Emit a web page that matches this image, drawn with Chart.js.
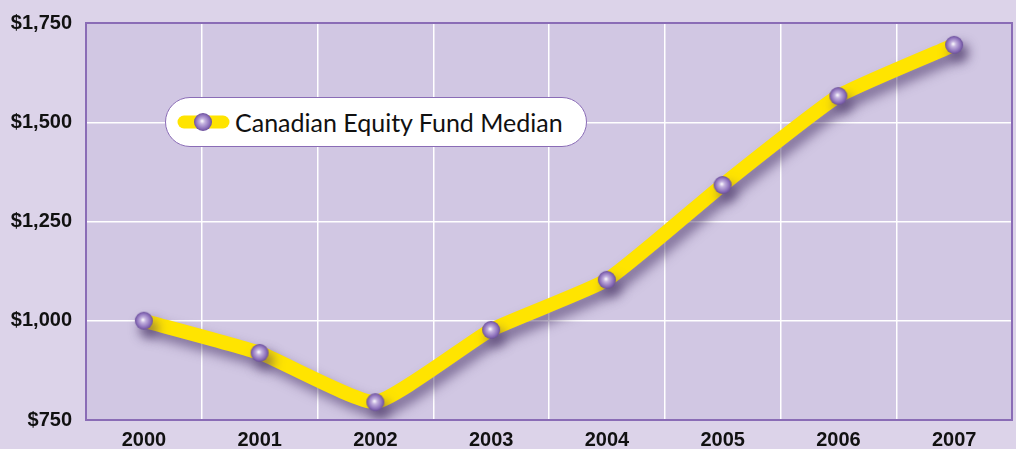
<!DOCTYPE html>
<html>
<head>
<meta charset="utf-8">
<script src="https://cdn.jsdelivr.net/npm/chart.js@4"></script>
<style>
  html, body { margin: 0; padding: 0; background: #dcd3e9; }
  #wrap { position: relative; width: 1016px; height: 449px; }
  #legend {
    position: absolute; left: 165px; top: 97px; width: 420px; height: 48px;
    background: #fff; border: 1px solid #8a6cb6; border-radius: 25px;
    display: flex; align-items: center; box-sizing: content-box;
  }
  #legend canvas { margin-left: 10px; }
  #legend span { font: 25px Lato, "Open Sans", sans-serif; color: #111; margin-left: 5px; }
</style>
</head>
<body>
<div id="wrap">
  <canvas id="chart" width="1016" height="449"></canvas>
  <div id="legend"><canvas id="legendIcon" width="54" height="24"></canvas><span id="legendText"></span></div>
</div>
<script>
(() => {
    'use strict';

    const years = ['2000', '2001', '2002', '2003', '2004', '2005', '2006', '2007'];
    const fundValues = [1000, 919, 795, 977, 1103, 1342, 1566, 1695];
    const seriesName = 'Canadian Equity Fund Median';
    const yTicks = [750, 1000, 1250, 1500, 1750];

    const yellow = '#ffe400';
    const purple = '#8a6cb6';
    const plotBg = '#d1c7e3';

    const makeBall = (r) => {
        const c = document.createElement('canvas');
        const s = r * 2 + 2;
        c.width = s; c.height = s;
        const g = c.getContext('2d');
        const cx = s / 2, cy = s / 2;
        const grad = g.createRadialGradient(cx - 1, cy - 1, 0, cx, cy, r);
        grad.addColorStop(0, '#ffffff');
        grad.addColorStop(0.3, '#c4b2df');
        grad.addColorStop(0.75, '#8e72bc');
        grad.addColorStop(1, '#6a4e9a');
        g.fillStyle = grad;
        g.beginPath(); g.arc(cx, cy, r, 0, Math.PI * 2); g.fill();
        return c;
    };
    const ball = makeBall(9);

    // legend icon
    const li = document.getElementById('legendIcon').getContext('2d');
    li.strokeStyle = yellow; li.lineWidth = 13; li.lineCap = 'round';
    li.beginPath(); li.moveTo(8, 12); li.lineTo(47, 12); li.stroke();
    li.drawImage(ball, 27 - ball.width / 2, 12 - ball.height / 2);
    document.getElementById('legendText').textContent = seriesName;

    const plotFrame = {
        id: 'plotFrame',
        beforeDraw(chart) {
            const { ctx, chartArea: a } = chart;
            ctx.save();
            ctx.fillStyle = plotBg;
            ctx.fillRect(a.left, a.top, a.right - a.left, a.bottom - a.top);
            ctx.restore();
        },
        afterDraw(chart) {
            const { ctx, chartArea: a } = chart;
            ctx.save();
            ctx.strokeStyle = purple;
            ctx.lineWidth = 2;
            ctx.strokeRect(a.left, a.top, a.right - a.left, a.bottom - a.top);
            ctx.restore();
        }
    };

    const shadow = {
        id: 'shadow',
        beforeDatasetDraw(chart) {
            const ctx = chart.ctx;
            ctx.save();
            ctx.shadowColor = 'rgba(70, 50, 100, 0.6)';
            ctx.shadowBlur = 12;
            ctx.shadowOffsetX = 5;
            ctx.shadowOffsetY = 8;
        },
        afterDatasetDraw(chart) {
            chart.ctx.restore();
        }
    };

    const tickFont = { family: '"Liberation Sans", Arial, sans-serif', size: 20, weight: 'bold' };

    new Chart(document.getElementById('chart'), {
        type: 'line',
        data: {
            labels: years,
            datasets: [{
                label: seriesName,
                data: fundValues,
                borderColor: yellow,
                borderWidth: 14,
                borderCapStyle: 'round',
                borderJoinStyle: 'round',
                tension: 0.15,
                pointStyle: ball,
                pointRadius: 9,
                pointHoverRadius: 9
            }]
        },
        options: {
            responsive: false,
            animation: false,
            layout: { autoPadding: false, padding: { top: 23, right: 4, left: 0, bottom: 0 } },
            plugins: { legend: { display: false }, tooltip: { enabled: false } },
            scales: {
                x: {
                    offset: true,
                    grid: { offset: true, color: '#ffffff', lineWidth: 1.5, drawTicks: false },
                    border: { display: false },
                    ticks: { color: '#111', font: tickFont, padding: 8 },
                    afterFit: s => { s.height = 29; s.paddingRight = 0; s.paddingLeft = 0; }
                },
                y: {
                    min: 750, max: 1750,
                    afterBuildTicks: s => { s.ticks = yTicks.map(v => ({ value: v })); },
                    grid: { color: '#ffffff', lineWidth: 1.5, drawTicks: false },
                    border: { display: false },
                    ticks: {
                        color: '#111', font: tickFont, padding: 14,
                        callback: v => '$' + v.toLocaleString('en-US')
                    },
                    afterFit: s => { s.width = 86; s.paddingTop = 0; s.paddingBottom = 0; }
                }
            }
        },
        plugins: [plotFrame, shadow]
    });
})();
</script>
</body>
</html>
